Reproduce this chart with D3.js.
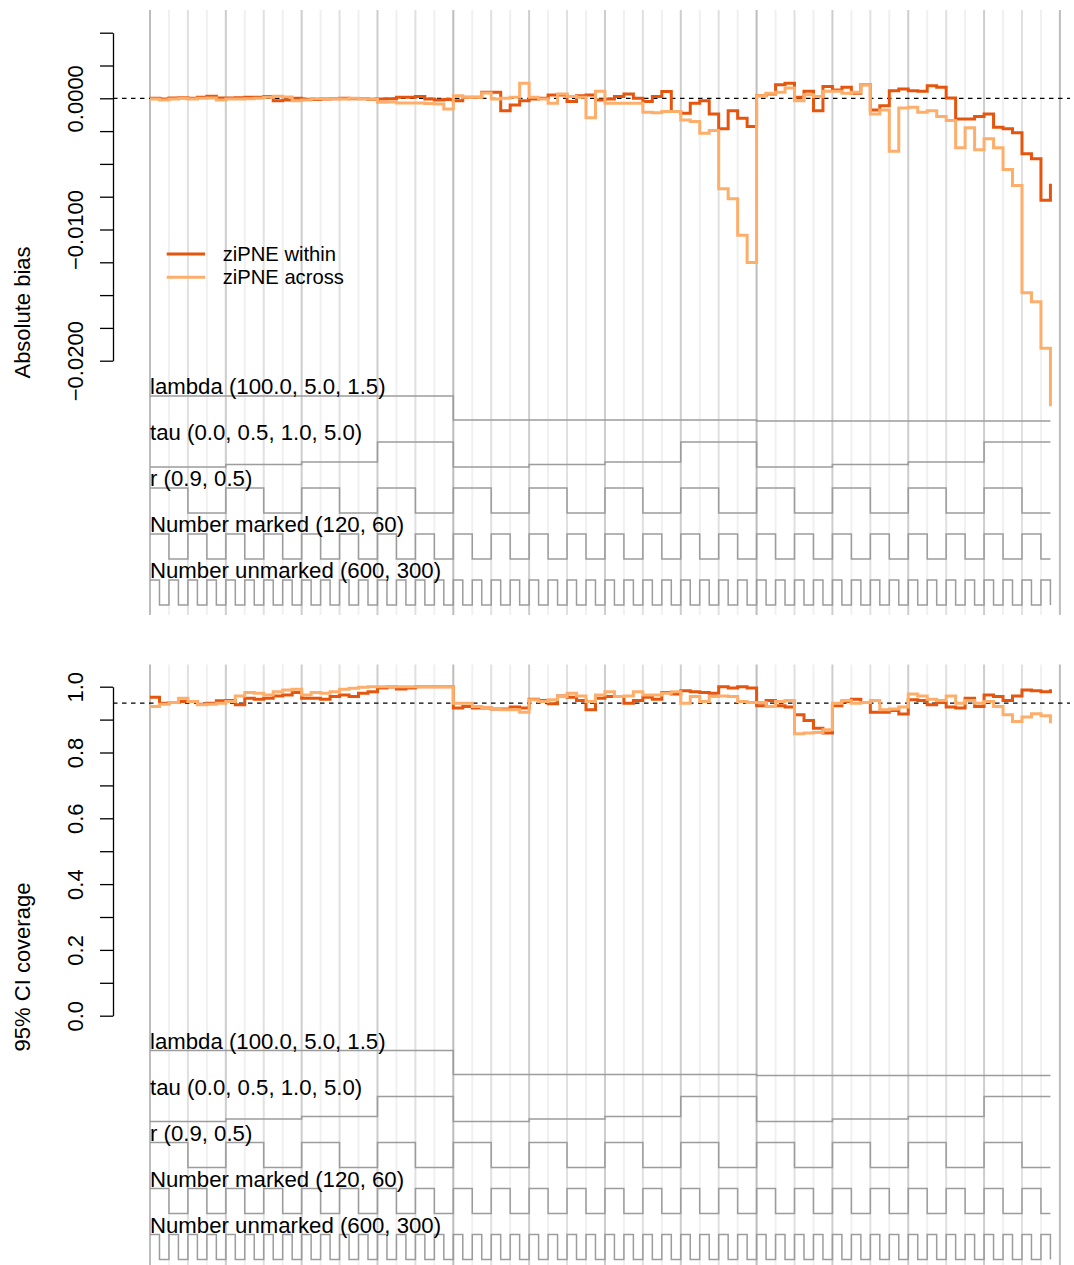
<!DOCTYPE html>
<html>
<head>
<meta charset="utf-8">
<script src="https://cdn.jsdelivr.net/npm/d3@7"></script>
<style>
  body { margin: 0; background: #fff; }
  svg { display: block; }
  text { font-family: "Liberation Sans", Arial, Helvetica, sans-serif; fill: #000; }
</style>
</head>
<body>
<svg id="chart" width="1074" height="1265"></svg>
<script>
// Simulation design factors, outermost loop first
const lambdaLevels   = [100.0, 5.0, 1.5];
const tauLevels      = [0.0, 0.5, 1.0, 5.0];
const rLevels        = [0.9, 0.5];
const markedLevels   = [120, 60];
const unmarkedLevels = [600, 300];

// Absolute bias per scenario (96 scenarios)
const biasWithin = [
  0.00000, -0.00005, 0.00003, 0.00005, 0.00000, 0.00008, 0.00015, 0.00003,
  0.00003, 0.00005, 0.00008, 0.00008, 0.00013, -0.00018, -0.00013, 0.00000,
  -0.00008, -0.00010, -0.00005, -0.00003, 0.00000, -0.00003, -0.00003, -0.00008,
  -0.00005, -0.00003, 0.00008, 0.00008, 0.00013, -0.00005, -0.00013, -0.00010,
  -0.00018, 0.00008, 0.00008, 0.00046, 0.00046, -0.00094, -0.00051, -0.00018,
  -0.00005, 0.00000, 0.00025, 0.00025, -0.00025, 0.00020, 0.00025, -0.00013,
  -0.00005, 0.00013, 0.00033, 0.00000, -0.00025, 0.00013, 0.00051, -0.00101,
  -0.00114, -0.00038, -0.00018, -0.00119, -0.00233, -0.00094, -0.00152, -0.00215,
  0.00020, 0.00033, 0.00104, 0.00114, 0.00008, 0.00053, -0.00094, 0.00089,
  0.00063, 0.00084, 0.00038, 0.00104, -0.00089, -0.00056, 0.00058, 0.00071,
  0.00058, 0.00053, 0.00096, 0.00084, 0.00003, -0.00157, -0.00157, -0.00139,
  -0.00119, -0.00220, -0.00233, -0.00263, -0.00423, -0.00461, -0.00778, -0.00651
];
const biasAcross = [
  -0.00005, -0.00013, -0.00005, 0.00000, -0.00005, 0.00000, 0.00003, -0.00013,
  -0.00005, -0.00005, -0.00003, 0.00000, 0.00008, 0.00015, 0.00010, -0.00018,
  -0.00013, -0.00003, -0.00003, -0.00003, -0.00005, 0.00000, -0.00003, -0.00005,
  -0.00030, -0.00028, -0.00036, -0.00036, -0.00036, -0.00040, -0.00043, -0.00081,
  0.00020, 0.00008, 0.00008, 0.00041, -0.00005, 0.00000, 0.00008, 0.00114,
  0.00008, -0.00005, -0.00038, 0.00033, 0.00013, 0.00008, -0.00149, 0.00053,
  -0.00038, -0.00038, -0.00038, -0.00038, -0.00106, -0.00111, -0.00101, -0.00101,
  -0.00165, -0.00177, -0.00266, -0.00246, -0.00689, -0.00765, -0.01044, -0.01251,
  0.00020, 0.00038, 0.00046, 0.00079, -0.00018, 0.00028, 0.00013, 0.00053,
  0.00053, 0.00038, 0.00046, 0.00104, -0.00119, -0.00089, -0.00403, -0.00074,
  -0.00068, -0.00106, -0.00094, -0.00139, -0.00170, -0.00377, -0.00225, -0.00393,
  -0.00309, -0.00377, -0.00542, -0.00664, -0.01482, -0.01550, -0.01905, -0.02348
];

// 95% CI coverage per scenario
const coverageWithin = [
  0.968, 0.950, 0.952, 0.955, 0.955, 0.947, 0.950, 0.957,
  0.958, 0.945, 0.965, 0.962, 0.965, 0.972, 0.975, 0.982,
  0.965, 0.965, 0.962, 0.970, 0.975, 0.970, 0.980, 0.985,
  0.996, 0.999, 0.993, 0.996, 1.000, 1.000, 1.000, 1.000,
  0.935, 0.940, 0.935, 0.935, 0.932, 0.932, 0.938, 0.935,
  0.962, 0.958, 0.948, 0.972, 0.968, 0.958, 0.930, 0.965,
  0.970, 0.970, 0.950, 0.958, 0.968, 0.962, 0.982, 0.978,
  0.988, 0.985, 0.982, 0.980, 1.000, 0.996, 1.000, 0.996,
  0.942, 0.958, 0.942, 0.938, 0.915, 0.897, 0.874, 0.859,
  0.942, 0.955, 0.962, 0.952, 0.922, 0.922, 0.928, 0.917,
  0.960, 0.958, 0.945, 0.952, 0.938, 0.935, 0.965, 0.940,
  0.975, 0.970, 0.958, 0.972, 0.990, 0.988, 0.985, 0.992
];
const coverageAcross = [
  0.940, 0.947, 0.952, 0.965, 0.955, 0.945, 0.947, 0.950,
  0.955, 0.972, 0.982, 0.980, 0.975, 0.985, 0.990, 0.992,
  0.975, 0.982, 0.980, 0.985, 0.992, 0.995, 0.998, 1.000,
  1.000, 1.000, 1.000, 1.000, 1.000, 1.000, 1.000, 1.000,
  0.950, 0.950, 0.940, 0.935, 0.933, 0.930, 0.930, 0.922,
  0.960, 0.955, 0.960, 0.970, 0.980, 0.972, 0.955, 0.975,
  0.985, 0.970, 0.972, 0.985, 0.975, 0.975, 0.980, 0.985,
  0.950, 0.970, 0.955, 0.970, 0.972, 0.970, 0.955, 0.952,
  0.952, 0.940, 0.955, 0.958, 0.857, 0.859, 0.861, 0.869,
  0.950, 0.958, 0.950, 0.952, 0.958, 0.930, 0.932, 0.938,
  0.978, 0.972, 0.962, 0.958, 0.972, 0.950, 0.958, 0.950,
  0.955, 0.940, 0.915, 0.894, 0.908, 0.918, 0.912, 0.889
];

// Axis ticks and labels
const biasTicks = [0.005, 0.0025, 0, -0.0025, -0.005, -0.0075, -0.01, -0.0125, -0.015, -0.0175, -0.02];
const biasLabels = [0, -0.01, -0.02];
const coverageTicks = [0, 0.1, 0.2, 0.3, 0.4, 0.5, 0.6, 0.7, 0.8, 0.9, 1.0];
const coverageLabels = [0, 0.2, 0.4, 0.6, 0.8, 1.0];

const seriesNames = ["ziPNE within", "ziPNE across"];
const seriesColors = ["#e6550d", "#fdae6b"];

const factors = [
  { name: "lambda", levels: lambdaLevels, fmt: d3.format(".1f") },
  { name: "tau", levels: tauLevels, fmt: d3.format(".1f") },
  { name: "r", levels: rLevels, fmt: d3.format(".1f") },
  { name: "Number marked", levels: markedLevels, fmt: d3.format("d") },
  { name: "Number unmarked", levels: unmarkedLevels, fmt: d3.format("d") }
];

// Full factorial design, last factor varying fastest
const nScen = factors.reduce((p, f) => p * f.levels.length, 1);
const design = d3.range(nScen).map(i => {
  let rest = i;
  const row = new Array(factors.length);
  for (let k = factors.length - 1; k >= 0; k--) {
    const n = factors[k].levels.length;
    row[k] = factors[k].levels[rest % n];
    rest = Math.floor(rest / n);
  }
  return row;
});

const svg = d3.select("#chart");
const x = d3.scaleLinear().domain([0, nScen]).range([150, 1059.9]);

function drawPanel(cfg) {
  const g = svg.append("g").attr("transform", `translate(0,${cfg.offset})`);

  // vertical guides at every change of "Number marked"
  const guides = d3.range(0, nScen + 1, 2);
  g.append("g").selectAll("line").data(guides).join("line")
    .attr("x1", d => x(d)).attr("x2", d => x(d))
    .attr("y1", 10).attr("y2", 615)
    .attr("stroke", d => d % 32 === 0 ? "#bdbdbd" : d % 8 === 0 ? "#cdcdcd" : d % 4 === 0 ? "#e0e0e0" : "#f0f0f0")
    .attr("stroke-width", 2);

  // nested-loop step lines for the design factors
  const rowTop0 = 396, rowGap = 46, rowH = 25;
  factors.forEach((f, k) => {
    const top = rowTop0 + k * rowGap;
    const ry = d3.scaleLinear().domain(d3.extent(f.levels)).range([top + rowH, top]);
    const line = d3.line().x((d, i) => x(i)).y(d => ry(d[k])).curve(d3.curveStepAfter);
    g.append("path").attr("d", line(design))
      .attr("fill", "none").attr("stroke", "#9c9c9c").attr("stroke-width", 1.5);
    g.append("text").attr("x", 150).attr("y", top - 2)
      .attr("font-size", 22.2)
      .text(`${f.name} (${f.levels.map(f.fmt).join(", ")})`);
  });

  // y axis
  const axis = d3.axisLeft(cfg.y).tickValues(cfg.ticks).tickSize(13).tickSizeOuter(0).tickPadding(0)
    .tickFormat(d => cfg.labels.some(l => Math.abs(l - d) < 1e-9) ? cfg.fmt(d) : "");
  const ag = g.append("g").attr("transform", "translate(113,0)").call(axis);
  ag.select(".domain").attr("stroke", "#000").attr("stroke-width", 1.3);
  ag.selectAll(".tick line").attr("stroke", "#000").attr("stroke-width", 1.3);
  ag.selectAll(".tick text")
    .attr("x", null).attr("dy", null)
    .attr("transform", "translate(-30.5,0) rotate(-90)")
    .attr("text-anchor", "middle")
    .attr("font-size", 22).attr("font-family", null).attr("fill", "#000");

  g.append("text")
    .attr("transform", "translate(30,312.5) rotate(-90)")
    .attr("text-anchor", "middle").attr("font-size", 22)
    .text(cfg.title);

  // reference line
  g.append("line")
    .attr("x1", 113).attr("x2", 1070)
    .attr("y1", cfg.y(cfg.ref)).attr("y2", cfg.y(cfg.ref))
    .attr("stroke", "#000").attr("stroke-width", 1.3).attr("stroke-dasharray", "4.5,4.5");

  // estimator series
  const sline = d3.line().x((d, i) => x(i)).y(d => cfg.y(d)).curve(d3.curveStepAfter);
  cfg.series.forEach((s, j) => {
    g.append("path").attr("d", sline(s))
      .attr("fill", "none").attr("stroke", seriesColors[j])
      .attr("stroke-width", 3).attr("stroke-linejoin", "miter");
  });

  if (cfg.legend) {
    const lg = g.append("g");
    seriesNames.forEach((name, j) => {
      const yy = 254 + j * 23.3;
      lg.append("line").attr("x1", 166.7).attr("x2", 205).attr("y1", yy).attr("y2", yy)
        .attr("stroke", seriesColors[j]).attr("stroke-width", 3);
      lg.append("text").attr("x", 222.7).attr("y", yy).attr("dy", "0.35em")
        .attr("font-size", 20.2).text(name);
    });
  }
}

drawPanel({
  offset: 0,
  y: d3.scaleLinear().domain([-0.02, 0.005]).range([360.7, 32.7]),
  ticks: biasTicks, labels: biasLabels, fmt: d3.format(".4f"),
  title: "Absolute bias", ref: 0,
  series: [biasWithin, biasAcross], legend: true
});

drawPanel({
  offset: 654.5,
  y: d3.scaleLinear().domain([0, 1]).range([361.2, 32.2]),
  ticks: coverageTicks, labels: coverageLabels, fmt: d3.format(".1f"),
  title: "95% CI coverage", ref: 0.95,
  series: [coverageWithin, coverageAcross], legend: false
});
</script>
</body>
</html>
